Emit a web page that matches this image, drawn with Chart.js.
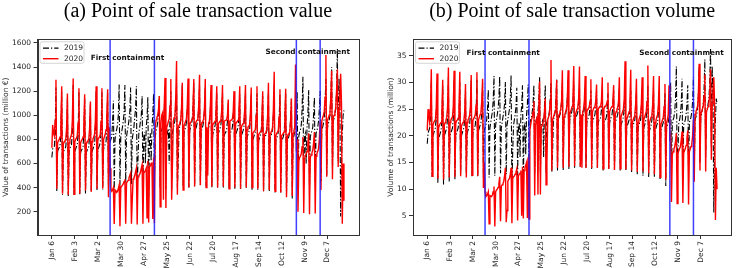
<!DOCTYPE html>
<html>
<head>
<meta charset="utf-8">
<script src="https://cdn.jsdelivr.net/npm/chart.js@4.4.1/dist/chart.umd.min.js"></script>
<style>
  html, body { margin: 0; padding: 0; background: #fff; }
  #wrap { width: 736px; height: 268px; display: flex; }
  .panel { width: 368px; height: 268px; }
</style>
</head>
<body>
<div id="wrap">
  <div class="panel"><canvas id="valueChart" width="368" height="268"></canvas></div>
  <div class="panel"><canvas id="volumeChart" width="368" height="268"></canvas></div>
</div>
<script>
// x = days since Monday 6 Jan 2020, one point per day until Sun 27 Dec
// 2019 is aligned on weekdays. One row = one week, Mon..Sun
const tickDays = [0, 28, 56, 84, 112, 140, 168, 196, 224, 252, 280, 308, 336];
const tickLabels = ['Jan 6', 'Feb 3', 'Mar 2', 'Mar 30', 'Apr 27', 'May 25', 'Jun 22',
  'Jul 20', 'Aug 17', 'Sep 14', 'Oct 12', 'Nov 9', 'Dec 7'];
const containmentDays = [71, 125, 298, 327];
const valueTicks = [200, 400, 600, 800, 1000, 1200, 1400, 1600];
const volumeTicks = [5, 10, 15, 20, 25, 30, 35];

const value2019 = [
  650, 720, 730, 740, 850, 1230, 370,
  700, 720, 730, 750, 850, 1200, 340,
  690, 710, 720, 740, 830, 1150, 330,
  700, 730, 740, 760, 870, 1250, 340,
  700, 720, 740, 760, 860, 1190, 345,
  690, 710, 720, 740, 850, 1140, 350,
  690, 710, 720, 740, 830, 1100, 370,
  700, 720, 740, 760, 870, 1200, 380,
  710, 730, 750, 770, 880, 1190, 385,
  720, 740, 760, 780, 890, 1180, 390,
  760, 780, 800, 820, 950, 1120, 380,
  800, 850, 880, 920, 1000, 1255, 420,
  820, 860, 900, 950, 1020, 1250, 440,
  820, 870, 910, 960, 1030, 1230, 430,
  800, 850, 900, 980, 1050, 1240, 360,
  640, 850, 900, 950, 1000, 1160, 410,
  820, 860, 600, 900, 980, 1150, 320,
  800, 850, 620, 900, 1000, 1180, 420,
  820, 870, 900, 940, 1020, 1160, 400,
  850, 880, 900, 950, 1040, 1240, 390,
  830, 860, 890, 600, 1000, 1200, 380,
  860, 890, 920, 960, 1050, 1240, 400,
  600, 880, 910, 950, 1050, 1250, 410,
  850, 880, 900, 940, 1040, 1220, 400,
  870, 900, 920, 960, 1060, 1270, 410,
  880, 900, 930, 960, 1060, 1250, 420,
  860, 890, 910, 950, 1040, 1230, 410,
  850, 870, 890, 930, 1020, 1200, 400,
  840, 860, 880, 920, 1000, 1180, 400,
  850, 870, 890, 920, 1000, 1190, 400,
  830, 850, 860, 880, 950, 1100, 390,
  840, 860, 870, 900, 980, 1150, 390,
  840, 860, 880, 900, 990, 1180, 390,
  830, 850, 870, 900, 1000, 1200, 390,
  820, 840, 860, 880, 980, 1170, 380,
  800, 820, 840, 860, 970, 1180, 380,
  790, 810, 830, 860, 960, 1160, 370,
  800, 820, 840, 870, 990, 1200, 370,
  810, 830, 850, 880, 1000, 1250, 360,
  790, 810, 830, 860, 970, 1170, 360,
  780, 800, 820, 850, 960, 1180, 350,
  780, 800, 830, 860, 970, 1140, 310,
  800, 830, 860, 900, 1000, 1190, 400,
  830, 860, 880, 920, 1050, 1320, 420,
  820, 850, 600, 900, 1000, 1210, 400,
  820, 850, 870, 900, 1000, 1150, 420,
  850, 870, 900, 950, 1050, 1200, 450,
  880, 900, 930, 980, 1100, 1300, 500,
  900, 930, 960, 1000, 1150, 1400, 550,
  950, 980, 1010, 1050, 1200, 1550, 620,
  1300, 1150, 160, 600, 850, 1000, 1040
];

const value2020 = [
  730, 920, 850, 830, 960, 1295, 390,
  770, 790, 800, 820, 930, 1240, 350,
  760, 780, 790, 800, 900, 1180, 340,
  770, 800, 820, 840, 960, 1305, 345,
  780, 800, 810, 830, 940, 1225, 350,
  770, 790, 800, 820, 920, 1175, 375,
  760, 780, 790, 800, 890, 1115, 365,
  780, 800, 820, 840, 950, 1240, 390,
  790, 810, 820, 840, 950, 1225, 393,
  800, 820, 840, 880, 1000, 1215, 320,
  900, 560, 390, 370, 380, 400, 98,
  380, 370, 360, 370, 390, 420, 80,
  400, 410, 420, 430, 450, 470, 100,
  440, 450, 460, 480, 500, 520, 100,
  300, 470, 480, 500, 530, 560, 95,
  490, 500, 510, 530, 560, 590, 100,
  520, 530, 540, 560, 150, 620, 110,
  570, 580, 600, 610, 140, 650, 105,
  900, 960, 980, 1000, 1050, 1160, 240,
  940, 1000, 1020, 300, 1080, 1310, 230,
  900, 920, 950, 970, 1080, 1300, 300,
  600, 950, 980, 1000, 1150, 1450, 340,
  900, 920, 940, 960, 1050, 1270, 380,
  910, 930, 950, 970, 1060, 1305, 400,
  920, 940, 950, 970, 1060, 1300, 410,
  930, 950, 960, 980, 1080, 1335, 420,
  920, 940, 950, 970, 1060, 1300, 400,
  900, 500, 930, 950, 1040, 1250, 410,
  920, 930, 940, 950, 1030, 1240, 400,
  930, 940, 950, 960, 1040, 1250, 410,
  950, 950, 960, 960, 1000, 1130, 390,
  950, 960, 960, 970, 1020, 1200, 400,
  930, 940, 950, 960, 1030, 1240, 390,
  900, 920, 930, 950, 1040, 1250, 400,
  880, 900, 910, 920, 1020, 1230, 400,
  850, 860, 870, 880, 1000, 1240, 390,
  840, 850, 860, 870, 980, 1200, 370,
  840, 850, 860, 880, 1000, 1270, 380,
  850, 860, 870, 900, 1050, 1360, 370,
  830, 850, 860, 870, 990, 1215, 360,
  830, 840, 850, 860, 990, 1220, 320,
  820, 840, 850, 860, 960, 1140, 330,
  850, 870, 900, 1420, 700, 800, 200,
  620, 650, 660, 680, 740, 820, 190,
  640, 660, 680, 700, 760, 850, 180,
  650, 670, 690, 710, 770, 860, 185,
  660, 680, 700, 720, 800, 950, 380,
  950, 980, 1000, 1030, 1150, 1500, 490,
  960, 980, 1000, 1030, 1150, 1370, 470,
  980, 1000, 1030, 1060, 1200, 1380, 570,
  1050, 1150, 1345, 1100, 100, 600, 290
];

const volume2019 = [
  18.5, 20.5, 21.0, 21.5, 23.5, 30.5, 12.3,
  20.0, 20.5, 21.0, 21.5, 23.5, 30.0, 11.1,
  19.5, 20.0, 20.5, 21.0, 23.0, 29.5, 10.8,
  20.0, 20.5, 21.0, 21.5, 23.5, 31.0, 11.4,
  20.0, 20.5, 21.0, 21.5, 23.5, 30.5, 11.7,
  20.0, 20.5, 21.0, 21.5, 23.5, 30.0, 12.7,
  20.0, 20.5, 21.0, 21.5, 23.0, 28.5, 13.0,
  20.5, 21.0, 21.5, 22.0, 24.0, 30.5, 12.4,
  20.5, 21.0, 21.5, 22.0, 24.0, 30.5, 12.3,
  21.0, 21.5, 22.0, 22.5, 24.5, 30.0, 12.0,
  21.0, 21.5, 22.0, 23.0, 25.0, 28.7, 12.2,
  21.5, 22.5, 23.5, 24.5, 26.5, 31.2, 12.5,
  22.0, 23.0, 24.0, 25.0, 27.0, 31.2, 13.0,
  21.5, 22.5, 23.5, 24.5, 26.0, 30.1, 12.8,
  22.0, 23.0, 24.0, 25.0, 27.0, 31.3, 10.5,
  17.0, 22.0, 23.0, 24.0, 25.5, 29.0, 12.5,
  21.5, 22.5, 16.0, 24.0, 25.5, 29.5, 11.0,
  21.5, 22.5, 16.5, 24.0, 26.0, 29.6, 13.0,
  22.0, 23.0, 23.5, 24.5, 26.0, 29.5, 13.0,
  22.5, 23.0, 23.5, 24.5, 26.5, 31.0, 13.2,
  22.0, 22.5, 23.0, 16.0, 25.5, 29.5, 13.0,
  22.5, 23.0, 23.5, 24.5, 26.5, 30.0, 13.2,
  17.0, 23.0, 23.5, 24.5, 26.5, 30.5, 13.5,
  23.0, 23.5, 24.0, 24.5, 26.5, 30.0, 13.6,
  23.0, 23.5, 24.0, 25.0, 27.0, 30.5, 13.8,
  23.0, 23.5, 24.0, 25.0, 26.5, 30.0, 14.0,
  23.0, 23.5, 24.0, 24.5, 26.0, 29.5, 14.2,
  22.5, 23.0, 23.5, 24.0, 25.5, 29.0, 14.0,
  22.5, 23.0, 23.5, 24.0, 25.5, 28.5, 13.8,
  22.5, 23.0, 23.5, 24.0, 25.5, 28.5, 14.0,
  22.5, 23.0, 23.0, 23.5, 25.0, 27.5, 13.5,
  22.5, 23.0, 23.0, 23.5, 25.0, 28.0, 13.8,
  22.5, 23.0, 23.5, 24.0, 25.5, 28.5, 13.6,
  22.5, 23.0, 23.5, 24.0, 25.5, 29.0, 13.5,
  22.0, 22.5, 23.0, 23.5, 25.5, 29.0, 13.4,
  21.5, 22.0, 22.5, 23.0, 25.0, 28.5, 13.2,
  21.5, 22.0, 22.5, 23.0, 25.0, 28.5, 12.8,
  21.5, 22.0, 22.5, 23.0, 25.0, 29.0, 12.5,
  21.5, 22.0, 22.5, 23.5, 25.5, 29.5, 12.3,
  21.0, 21.5, 22.0, 23.0, 25.0, 28.5, 12.2,
  21.0, 21.5, 22.0, 22.5, 24.5, 28.5, 11.9,
  21.0, 21.5, 22.0, 22.5, 24.5, 28.0, 10.6,
  21.5, 22.0, 22.5, 23.5, 25.5, 30.1, 12.5,
  22.0, 23.0, 23.5, 24.5, 27.0, 33.0, 13.0,
  17.0, 22.5, 23.0, 24.0, 26.0, 30.7, 12.8,
  22.0, 22.5, 23.0, 24.0, 26.0, 29.5, 13.0,
  22.5, 23.0, 23.5, 24.5, 26.5, 31.0, 14.0,
  23.0, 23.5, 24.0, 25.0, 27.5, 33.0, 15.0,
  23.5, 24.0, 25.0, 26.0, 28.5, 34.3, 16.0,
  24.5, 25.0, 26.0, 27.0, 30.0, 36.3, 18.0,
  33.0, 28.0, 5.6, 18.0, 23.0, 27.0, 26.0
];

const volume2020 = [
  21.0, 25.0, 23.5, 22.5, 25.0, 32.5, 12.4,
  22.0, 22.5, 22.8, 23.0, 25.0, 31.7, 12.0,
  21.5, 22.0, 22.3, 22.5, 24.5, 30.5, 11.8,
  22.0, 22.5, 23.0, 23.5, 25.5, 32.8, 12.2,
  22.5, 23.0, 23.3, 23.5, 25.5, 32.2, 12.3,
  22.3, 22.8, 23.0, 23.3, 25.2, 32.0, 12.4,
  21.8, 22.2, 22.5, 22.8, 24.5, 29.7, 12.2,
  22.5, 23.0, 23.3, 23.8, 25.5, 31.4, 12.6,
  22.8, 23.2, 23.5, 24.0, 25.8, 31.9, 12.5,
  23.0, 23.5, 24.0, 24.5, 26.5, 30.7, 10.2,
  15.0, 9.5, 8.6, 8.8, 9.0, 9.5, 3.5,
  8.8, 8.7, 8.6, 8.9, 9.5, 10.5, 3.0,
  9.5, 9.8, 10.0, 10.3, 11.0, 12.3, 4.0,
  10.5, 10.8, 11.0, 11.5, 12.5, 14.0, 3.8,
  6.0, 11.5, 11.8, 12.0, 12.8, 14.0, 3.6,
  12.0, 12.3, 12.5, 12.8, 13.2, 13.8, 4.1,
  12.5, 12.8, 13.0, 13.5, 5.0, 14.2, 4.5,
  13.5, 14.0, 14.5, 15.0, 4.6, 16.0, 4.4,
  21.0, 22.0, 23.0, 23.5, 24.5, 26.5, 8.8,
  22.0, 23.0, 23.5, 9.0, 25.0, 30.2, 9.0,
  21.5, 22.0, 22.5, 23.0, 24.5, 27.0, 10.8,
  15.0, 23.0, 23.5, 24.0, 26.5, 34.2, 13.5,
  23.0, 23.5, 24.0, 24.5, 26.0, 30.5, 14.0,
  23.5, 24.0, 24.5, 25.0, 26.5, 32.3, 14.0,
  23.5, 24.0, 24.5, 25.0, 26.5, 32.3, 14.2,
  24.0, 24.5, 25.0, 25.5, 27.0, 33.1, 14.3,
  24.0, 24.5, 25.0, 25.5, 27.0, 33.0, 14.2,
  24.0, 14.0, 24.5, 25.0, 26.5, 31.2, 14.0,
  24.5, 25.0, 25.0, 25.5, 26.5, 30.6, 14.0,
  24.5, 25.0, 25.3, 25.5, 26.5, 29.6, 14.0,
  25.0, 25.3, 25.5, 25.5, 26.5, 31.0, 13.8,
  25.0, 25.5, 25.5, 25.8, 26.5, 30.0, 13.8,
  24.5, 25.0, 25.3, 25.5, 26.5, 29.5, 13.6,
  24.0, 24.5, 25.0, 25.3, 26.5, 31.0, 13.8,
  23.5, 24.0, 24.5, 25.0, 27.0, 34.0, 13.7,
  23.0, 23.5, 24.0, 24.5, 26.5, 32.4, 13.5,
  22.5, 23.0, 23.5, 24.0, 26.0, 30.7, 13.2,
  22.5, 23.0, 23.5, 24.0, 26.0, 31.0, 13.3,
  23.0, 23.5, 24.0, 24.5, 26.5, 33.2, 13.0,
  22.5, 23.0, 23.5, 24.0, 26.0, 31.2, 12.8,
  22.5, 23.0, 23.5, 24.0, 26.0, 31.2, 12.2,
  22.0, 22.5, 23.0, 23.5, 25.5, 29.7, 11.8,
  22.5, 23.0, 24.0, 29.5, 19.0, 20.5, 7.6,
  16.5, 17.0, 17.5, 18.0, 19.0, 20.5, 7.3,
  16.8, 17.2, 17.6, 18.0, 19.2, 20.8, 7.4,
  16.8, 17.2, 17.6, 18.2, 19.5, 21.0, 7.1,
  17.0, 17.5, 18.0, 18.5, 20.0, 23.0, 11.4,
  24.0, 24.5, 25.0, 25.5, 27.5, 33.5, 13.5,
  24.0, 24.5, 25.0, 25.5, 27.5, 31.5, 13.3,
  24.5, 25.0, 25.5, 26.0, 28.0, 32.5, 15.5,
  26.0, 28.0, 31.0, 26.0, 4.2, 14.0, 10.0
];

const FONT = 'DejaVu Sans';
const TXT = '#262626';

function xy(arr) {
  return arr.map((v, i) => ({ x: i, y: v }));
}

// box around the plot like matplotlib spines
const frame = {
  id: 'frame',
  afterDatasetsDraw(chart) {
    const a = chart.chartArea;
    const ctx = chart.ctx;
    ctx.save();
    ctx.strokeStyle = '#333';
    ctx.lineWidth = 1;
    ctx.strokeRect(Math.round(a.left) + 0.5, Math.round(a.top) + 0.5,
      Math.round(a.right - a.left), Math.round(a.bottom - a.top));
    ctx.restore();
  }
};

// legend box in the upper left corner + the two text notes
const notes = {
  id: 'notes',
  afterDraw(chart, args, opts) {
    const ctx = chart.ctx;
    const a = chart.chartArea;
    const sx = chart.scales.x, sy = chart.scales.y;
    ctx.save();
    ctx.font = 'bold 7.3px "' + FONT + '"';
    ctx.fillStyle = '#111';
    ctx.textBaseline = 'middle';
    opts.texts.forEach(t => {
      ctx.fillText(t.text, sx.getPixelForValue(t.x), sy.getPixelForValue(t.y));
    });

    const items = chart.data.datasets.filter(d => d.inLegend);
    const x0 = a.left + 2.5, y0 = a.top + 2.5;
    ctx.fillStyle = 'rgba(255,255,255,0.8)';
    ctx.strokeStyle = '#cccccc';
    ctx.lineWidth = 0.8;
    ctx.beginPath();
    ctx.roundRect(x0, y0, 44, 21.5, 2);
    ctx.fill();
    ctx.stroke();
    ctx.font = '7.5px "' + FONT + '"';
    items.forEach((d, i) => {
      const y = y0 + 6.3 + i * 10.6;
      ctx.strokeStyle = d.borderColor;
      ctx.lineWidth = d.borderWidth;
      ctx.setLineDash(d.borderDash || []);
      ctx.beginPath();
      ctx.moveTo(x0 + 3, y);
      ctx.lineTo(x0 + 18.5, y);
      ctx.stroke();
      ctx.setLineDash([]);
      ctx.fillStyle = TXT;
      ctx.fillText(d.label, x0 + 24, y);
    });
    ctx.restore();
  }
};

function makeChart(id, cfg) {
  const datasets = [];
  containmentDays.forEach(d => {
    datasets.push({
      label: 'containment',
      data: [{ x: d, y: cfg.yMin }, { x: d, y: cfg.yMax }],
      borderColor: 'rgba(30,30,255,0.85)',
      borderWidth: 1.5,
      order: 0
    });
  });
  datasets.push({
    label: '2020',
    inLegend: true,
    data: xy(cfg.y2020),
    borderColor: '#ff0000',
    borderWidth: 1.4,
    order: 1
  });
  datasets.push({
    label: '2019',
    inLegend: true,
    data: xy(cfg.y2019),
    borderColor: '#000000',
    borderWidth: 1.1,
    borderDash: [6, 2, 1.2, 2],
    order: 2
  });
  // legend order: 2019 first
  datasets.sort((p, q) => (p.label === '2019' ? -1 : 0) - (q.label === '2019' ? -1 : 0));

  return new Chart(document.getElementById(id), {
    type: 'line',
    data: { datasets },
    plugins: [frame, notes],
    options: {
      responsive: false,
      animation: false,
      devicePixelRatio: 1,
      layout: { padding: { left: 0, right: cfg.padRight, top: 0, bottom: 0 } },
      elements: {
        point: { radius: 0 },
        line: { tension: 0, borderJoinStyle: 'miter' }
      },
      plugins: {
        legend: { display: false },
        tooltip: { enabled: false },
        title: {
          display: true,
          text: cfg.title,
          fullSize: false,
          color: '#000',
          font: { family: 'Liberation Serif', size: 20, weight: 'normal' },
          padding: { top: 0, bottom: 15.3 }
        },
        notes: { texts: cfg.texts }
      },
      scales: {
        x: {
          type: 'linear',
          min: -17.5,
          max: 373.5,
          afterBuildTicks: s => { s.ticks = tickDays.map(v => ({ value: v })); },
          afterFit: s => { s.height = 33; },
          grid: { display: true, drawOnChartArea: false, drawTicks: true, tickLength: 4, color: '#333' },
          border: { display: true, color: '#333' },
          ticks: {
            autoSkip: false,
            minRotation: 90,
            maxRotation: 90,
            padding: 2,
            color: TXT,
            font: { family: FONT, size: 7.5 },
            callback: v => tickLabels[tickDays.indexOf(v)]
          }
        },
        y: {
          type: 'linear',
          min: cfg.yMin,
          max: cfg.yMax,
          afterBuildTicks: s => { s.ticks = cfg.ticks.map(v => ({ value: v })); },
          afterFit: s => { s.width = cfg.yWidth; },
          grid: { display: true, drawOnChartArea: false, drawTicks: true, tickLength: 4, color: '#333' },
          border: { display: true, color: '#333' },
          ticks: {
            padding: 2.5,
            color: TXT,
            font: { family: FONT, size: 7.5 },
            callback: v => String(v)
          },
          title: {
            display: true,
            text: cfg.yTitle,
            color: TXT,
            font: { family: FONT, size: 7.5 },
            padding: { top: cfg.yTitlePad, bottom: 0 }
          }
        }
      }
    }
  });
}

makeChart('valueChart', {
  title: '(a) Point of sale transaction value',
  yTitle: 'Value of transactions (million €)',
  y2019: value2019,
  y2020: value2020,
  yMin: 7,
  yMax: 1630,
  ticks: valueTicks,
  yWidth: 37.5,
  yTitlePad: 1.5,
  padRight: 9.7,
  texts: [
    { text: 'First containment', x: 47.5, y: 1473 },
    { text: 'Second containment', x: 260.5, y: 1526 }
  ]
});

makeChart('volumeChart', {
  title: '(b) Point of sale transaction volume',
  yTitle: 'Volume of transactions (million)',
  y2019: volume2019,
  y2020: volume2020,
  yMin: 1.4,
  yMax: 38.1,
  ticks: volumeTicks,
  yWidth: 45,
  yTitlePad: 18.8,
  padRight: 4.7,
  texts: [
    { text: 'First containment', x: 48.2, y: 35.6 },
    { text: 'Second containment', x: 260.5, y: 35.6 }
  ]
});
</script>
</body>
</html>
